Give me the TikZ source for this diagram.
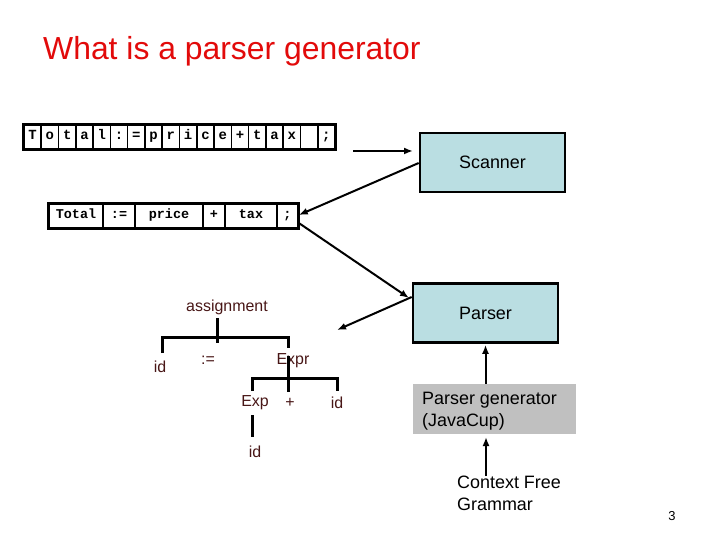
\documentclass[tikz,border=0pt]{standalone}
\usepackage{fontspec}
\setmainfont{Liberation Sans}
\newfontfamily\monofont{Liberation Mono}
\usetikzlibrary{arrows.meta,calc}
\definecolor{titlered}{RGB}{226,10,10}
\definecolor{boxblue}{RGB}{186,222,226}
\definecolor{boxgray}{RGB}{192,192,192}
\definecolor{treetext}{RGB}{72,22,22}
\tikzset{
  charcell/.style={draw, line width=1.6bp, minimum width=17.28bp, minimum height=24bp, inner sep=0pt,
    text height=8bp, text depth=2bp,
    font=\monofont\bfseries\fontsize{14}{14}\selectfont},
  tokcell/.style={draw, line width=1.6bp, minimum height=24bp, inner sep=0pt,
    text height=8bp, text depth=2bp,
    font=\monofont\bfseries\fontsize{13.5}{13.5}\selectfont},
  phase/.style={draw, line width=2.6bp, fill=boxblue, minimum width=145bp, minimum height=59bp,
    inner sep=0pt, font=\fontsize{18}{18}\selectfont},
  treelbl/.style={text=treetext, inner sep=1bp, font=\fontsize{16}{16}\selectfont},
  treeline/.style={line width=3bp},
  flow/.style={line width=2bp, -{Latex[length=9bp,width=7bp]}},
  plain/.style={font=\fontsize{18}{22}\selectfont, align=left, inner sep=0pt}
}
\begin{document}
\begin{tikzpicture}[x=1bp,y=-1bp]
\useasboundingbox (0,0) rectangle (720,540);
% title
\node[anchor=base west, text=titlered, inner sep=0pt, font=\fontsize{32}{32}\selectfont] (title) at (43,60) {What is a parser generator};
% character stream
\foreach \ch [count=\i] in {T,o,t,a,l,:,=,p,r,i,c,e,+,t,a,x,{},;} {
  \node[charcell] (c\i) at ({24+17.28*(\i-0.5)},137) {\ch};
}
\draw[line width=2.6bp] (c1.north west) rectangle (c18.south east);
% token stream
\node[tokcell, minimum width=54bp] (t1) at (76,216) {Total};
\node[tokcell, minimum width=32bp] (t2) at (119,216) {:=};
\node[tokcell, minimum width=68bp] (t3) at (169,216) {price};
\node[tokcell, minimum width=22bp] (t4) at (214,216) {+};
\node[tokcell, minimum width=52bp] (t5) at (251,216) {tax};
\node[tokcell, minimum width=21bp] (t6) at (287.5,216) {;};
\draw[line width=2.6bp] (t1.north west) rectangle (t6.south east);
% phases
\node[phase] (scanner) at (492.5,162.5) {Scanner};
\node[phase] (parser) at (485.5,313) {Parser};
\node[fill=boxgray, minimum width=163bp, minimum height=50bp, inner sep=0pt] (gen) at (494.5,409) {};
\node[plain, anchor=west] (gentext) at (422,411) {Parser generator\\(JavaCup)};
\node[plain, anchor=north west] (cfg) at (457,476) {Context Free\\Grammar};
% page number
\node[inner sep=0pt, font=\fontsize{13}{13}\selectfont] (pnum) at (672,516) {3};
% parse tree
\node[treelbl] (assign) at (227,307) {assignment};
\node[treelbl] (id1) at (160,367) {id};
\node[treelbl] (assop) at (208,360) {:=};
\node[treelbl] (expr) at (293,361) {Expr};
\node[treelbl] (exp) at (255,403) {Exp};
\node[treelbl] (plus) at (290,403) {+};
\node[treelbl] (id2) at (337,403) {id};
\node[treelbl] (id3) at (255,452) {id};
\coordinate (ja) at (217,337);
\coordinate (jb) at (288,378);
\draw[treeline] (ja |- 0,318) -- (ja |- 0,343);
\draw[treeline] (162,353) |- (ja) -| (288,348);
\draw[treeline] (jb |- 0,356) -- (jb |- 0,392);
\draw[treeline] (252,391) |- (jb) -| (337,391);
\draw[treeline] (252,415) -- (252,437);
% flow arrows
\coordinate (inarrow) at (353,151);
\draw[flow] (inarrow) -- (413,151);
\draw[flow] (scanner.west |- 0,163) -- (t6.east |- 0,215);
\draw[flow] (t6.east |- 0,223) -- (409,298);
\draw[flow] (parser.west |- 0,297) -- (337,330);
\draw[flow, shorten >=1bp] (gen.north -| parser.south) -- (parser.south);
\draw[flow] (cfg.north -| 486,0) -- (486,437);
\end{tikzpicture}
\end{document}
